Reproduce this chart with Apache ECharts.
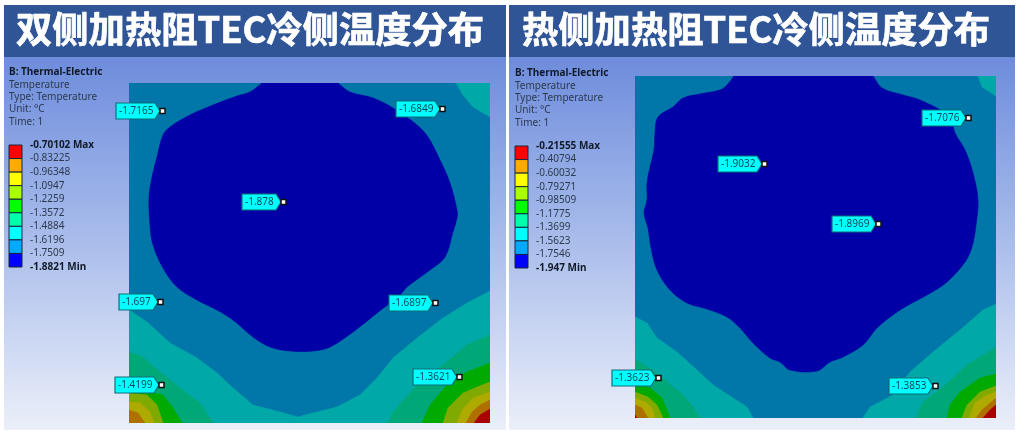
<!DOCTYPE html>
<html><head><meta charset="utf-8">
<style>html,body{margin:0;padding:0;background:#fff}#c{width:1020px;height:433px}</style>
<script src="https://cdn.jsdelivr.net/npm/echarts@6/dist/echarts.min.js"></script>
</head><body><div id="c"></div>
<script>
const titles = ['双侧加热阻TEC冷侧温度分布', '热侧加热阻TEC冷侧温度分布'];
const infoHead = 'B: Thermal-Electric';
const infoLines = ['Temperature', 'Type: Temperature', 'Unit: °C', 'Time: 1'];
const legendColors = ['#ff0000','#ffaa00','#ffff00','#aaff00','#00ff00','#00ffaa','#00ffff','#00aaff','#0000ff'];
const legendA = ['-0.70102 Max','-0.83225','-0.96348','-1.0947','-1.2259','-1.3572','-1.4884','-1.6196','-1.7509','-1.8821 Min'];
const legendB = ['-0.21555 Max','-0.40794','-0.60032','-0.79271','-0.98509','-1.1775','-1.3699','-1.5623','-1.7546','-1.947 Min'];
const plateA = [[0,0],[361,0],[361,340],[0,340]];
const plateB = [[0,0],[361,0],[361,342],[0,342]];
const coreA = [[145,-9],[133,0],[121,9],[108,13],[84,22],[61,32],[41,44],[34,52],[28,74],[23,94],[20,114],[21,142],[24,162],[34,185],[48,204],[68,217],[88,227],[104,237],[124,254],[141,264],[161,268],[184,268],[201,264],[224,249],[248,230],[271,212],[278,204],[301,187],[316,174],[324,149],[328,135],[328,127],[321,100],[311,77],[299,54],[288,42],[264,25],[244,15],[221,9],[209,0],[197,-9]];
const tealTopA = [[327,0],[334,12],[344,24],[361,34],[361,0]];
const tealLowA = [[0,227],[18,239],[41,260],[68,275],[88,290],[104,305],[124,322],[151,329],[169,334],[184,330],[208,324],[231,312],[248,295],[264,275],[288,255],[314,235],[338,220],[361,208],[361,340],[0,340]];
const seaLeftA = [[0,269],[14,274],[31,289],[51,305],[71,320],[84,340],[0,340]];
const seaRightA = [[259,340],[264,329],[288,302],[314,282],[338,262],[361,252],[361,340]];
const greenLeftA = [[0,302],[21,309],[34,312],[44,325],[53,340],[0,340]];
const limeLeftA = [[0,310],[18,312],[28,322],[34,340],[0,340]];
const yellowLeftA = [[0,319],[11,320],[21,329],[25,340],[0,340]];
const orangeLeftA = [[0,327],[9,330],[16,340],[0,340]];
const greenRightA = [[293,340],[301,322],[318,302],[338,289],[361,280],[361,340]];
const limeRightA = [[314,340],[319,325],[334,310],[348,304],[361,299],[361,340]];
const yellowRightA = [[328,340],[333,327],[344,315],[361,309],[361,340]];
const orangeRightA = [[337,340],[343,329],[351,322],[361,317],[361,340]];
const redRightA = [[345,340],[351,332],[361,326],[361,340]];
const coreB = [[106,-9],[99,0],[92,9],[85,14],[65,18],[48,22],[38,31],[23,41],[20,57],[19,74],[15,91],[12,107],[12,124],[9,137],[13,152],[16,172],[22,194],[35,214],[52,227],[72,233],[92,241],[105,252],[118,267],[135,282],[145,286],[155,294],[182,295],[195,286],[208,281],[228,269],[242,252],[265,234],[292,219],[312,206],[330,186],[337,171],[341,149],[343,124],[338,97],[330,74],[320,57],[315,41],[285,24],[268,19],[247,12],[238,0],[229,-12]];
const tealTopB = [[343,0],[347,11],[361,20],[361,0]];
const tealLeftB = [[0,241],[12,247],[22,262],[42,276],[62,294],[78,309],[98,322],[112,331],[118,342],[0,342]];
const tealRightB = [[228,342],[235,331],[258,319],[275,296],[298,276],[325,254],[348,234],[361,228],[361,342]];
const seaLeftB = [[0,284],[18,294],[32,306],[48,319],[58,331],[65,342],[0,342]];
const seaRightB = [[281,342],[288,326],[308,311],[332,289],[361,271],[361,342]];
const greenLeftB = [[0,309],[15,312],[27,322],[35,342],[0,342]];
const limeLeftB = [[0,316],[13,321],[22,329],[28,342],[0,342]];
const yellowLeftB = [[0,322],[10,326],[17,332],[20,342],[0,342]];
const orangeLeftB = [[0,329],[7,332],[13,342],[0,342]];
const redLeftB = [[0,339],[2,342],[0,342]];
const greenRightB = [[312,342],[315,329],[325,316],[345,302],[361,298],[361,342]];
const limeRightB = [[327,342],[332,329],[345,316],[361,310],[361,342]];
const yellowRightB = [[334,342],[340,327],[352,319],[361,316],[361,342]];
const orangeRightB = [[341,342],[347,334],[361,322],[361,342]];
const redRightB = [[348,342],[355,334],[361,329],[361,342]];
const probesA = [[34,28,'-1.7165'],[314,26,'-1.6849'],[155,119,'-1.878'],[32,219,'-1.697'],[307,220,'-1.6897'],[33,302,'-1.4199'],[331,294,'-1.3621']];
const probesB = [[334,42,'-1.7076'],[130,88,'-1.9032'],[244,148,'-1.8969'],[24,302,'-1.3623'],[301,310,'-1.3853']];

const C = {base:'#0077a8', core:'#0000a6', teal:'#00a8a8', sea:'#00a878', green:'#00aa00', lime:'#80aa00', yellow:'#aeaa00', orange:'#b07000', red:'#aa0000'};
const bandsA = [[plateA,C.base],[tealTopA,C.teal],[tealLowA,C.teal],[seaLeftA,C.sea],[seaRightA,C.sea],[greenLeftA,C.green],[limeLeftA,C.lime],[yellowLeftA,C.yellow],[orangeLeftA,C.orange],[greenRightA,C.green],[limeRightA,C.lime],[yellowRightA,C.yellow],[orangeRightA,C.orange],[redRightA,C.red],[coreA,C.core]];
const bandsB = [[plateB,C.base],[tealTopB,C.teal],[tealLeftB,C.teal],[tealRightB,C.teal],[seaLeftB,C.sea],[seaRightB,C.sea],[greenLeftB,C.green],[limeLeftB,C.lime],[yellowLeftB,C.yellow],[orangeLeftB,C.orange],[redLeftB,C.red],[greenRightB,C.green],[limeRightB,C.lime],[yellowRightB,C.yellow],[orangeRightB,C.orange],[redRightB,C.red],[coreB,C.core]];

const FONT = '"Noto Sans", sans-serif';
const TEXT = '#2b3a4e';

function bandSeries(g, bands){
  return {type:'custom', xAxisIndex:g, yAxisIndex:g, silent:true, z:2, animation:false, clip:true,
    data:bands.map((b,i)=>[i]),
    renderItem(p, api){
      const b = bands[p.dataIndex];
      return {type:'polygon', shape:{points:b[0].map(q=>api.coord(q)), smooth:b[1]===C.core?0.35:0},
        style:{fill:b[1], stroke:b[1], lineWidth:0.6}};
    }};
}
function probeSeries(g, probes){
  return {type:'custom', xAxisIndex:g, yAxisIndex:g, silent:true, z:5, animation:false, clip:false,
    data:probes,
    encode:{x:0,y:1},
    renderItem(p, api){
      const d = probes[p.dataIndex];
      const c = api.coord([d[0],d[1]]);
      const right = c[0]-3, w = d[2].length>6 ? 44 : 39, top = c[1]-8, bot = c[1]+8;
      const L = right-w;
      return {type:'group', children:[
        {type:'polygon', shape:{points:[[L,top],[right-5,top],[right,c[1]],[right-5,bot],[L,bot]]},
          style:{fill:'#00ffff', stroke:'#0f6f78', lineWidth:1.2}},
        {type:'rect', shape:{x:c[0]-3,y:c[1]-2.5,width:5,height:5}, style:{fill:'#fff', stroke:'#101010', lineWidth:1.5}},
        {type:'text', style:{text:d[2], x:L+3, y:c[1], fill:'#0b4c58', font:'10px '+FONT, textAlign:'left', textVerticalAlign:'middle'}}
      ]};
    }};
}
function legendSeries(g){
  return {type:'custom', xAxisIndex:g, yAxisIndex:g, silent:true, z:3, animation:false,
    data:legendColors.map((c,i)=>[0,i]),
    renderItem(p, api){
      const i = p.dataIndex, a = api.coord([0,i]), b = api.coord([1,i+1]);
      return {type:'rect', shape:{x:a[0],y:a[1],width:b[0]-a[0],height:b[1]-a[1]},
        style:{fill:legendColors[i], stroke:'#16263c', lineWidth:1}};
    }};
}
const grid = (left,top,width,height)=>({left,top,width,height,show:false});
const plateX = max=>({type:'value',min:0,max,show:false});
const plateY = max=>({type:'value',min:0,max,inverse:true,show:false});
function legendY(g, labels){
  return {type:'value', gridIndex:g, min:0, max:9, interval:1, inverse:true, position:'right',
    axisLine:{show:false}, axisTick:{show:false}, splitLine:{show:false},
    axisLabel:{margin:8, color:TEXT, fontFamily:FONT, fontSize:10, showMinLabel:true, showMaxLabel:true,
      hideOverlap:false,
      formatter:v=>{const s=labels[v]; return (v===0||v===9)?'{b|'+s+'}':s;},
      rich:{b:{fontWeight:'bold',fontFamily:FONT,fontSize:10,color:'#111a28'}}}};
}
function panelGradient(){
  return new echarts.graphic.LinearGradient(0,0,0,1,[
    {offset:0,color:'#6e8cdc'},{offset:0.45,color:'#a4b9ea'},{offset:1,color:'#ebeff9'}]);
}
const rect=(x,y,width,height,fill)=>({type:'rect',z:-10,silent:true,shape:{x,y,width,height},style:{fill}});
const headStyle = {color:'#fff',fontFamily:'"Noto Sans CJK SC"',fontWeight:'bold',fontSize:36.3,textBorderColor:'#fff',textBorderWidth:0.7};

const chart = echarts.init(document.getElementById('c'), null, {renderer:'canvas'});
chart.setOption({
  animation:false,
  backgroundColor:'#ffffff',
  graphic:[
    rect(4,57,502,373,panelGradient()), rect(4,5,502,52,'#2f5597'),
    rect(509,57,506,373,panelGradient()), rect(509,5,506,52,'#2f5597')
  ],
  title:[
    {text:titles[0],left:16,top:11,padding:0,textStyle:headStyle},
    {text:titles[1],left:522,top:11,padding:0,textStyle:headStyle},
    {text:infoHead,left:9,top:66,padding:0,textStyle:{color:'#111a28',fontFamily:FONT,fontWeight:'bold',fontSize:10,lineHeight:12}},
    {text:infoLines.join('\n'),left:9,top:79,padding:0,textStyle:{color:TEXT,fontFamily:FONT,fontWeight:'normal',fontSize:10,lineHeight:12.2}},
    {text:infoHead,left:515,top:67,padding:0,textStyle:{color:'#111a28',fontFamily:FONT,fontWeight:'bold',fontSize:10,lineHeight:12}},
    {text:infoLines.join('\n'),left:515,top:80,padding:0,textStyle:{color:TEXT,fontFamily:FONT,fontWeight:'normal',fontSize:10,lineHeight:12.2}}
  ],
  grid:[grid(129,83,361,340),grid(635,76,361,342),grid(9,145,13,122),grid(515,146,13,122)],
  xAxis:[
    {...plateX(361),gridIndex:0},{...plateX(361),gridIndex:1},
    {type:'value',gridIndex:2,min:0,max:1,show:false},{type:'value',gridIndex:3,min:0,max:1,show:false}
  ],
  yAxis:[
    {...plateY(340),gridIndex:0},{...plateY(342),gridIndex:1},
    legendY(2,legendA),legendY(3,legendB)
  ],
  series:[bandSeries(0,bandsA),bandSeries(1,bandsB),probeSeries(0,probesA),probeSeries(1,probesB),legendSeries(2),legendSeries(3)]
});
</script></body></html>
